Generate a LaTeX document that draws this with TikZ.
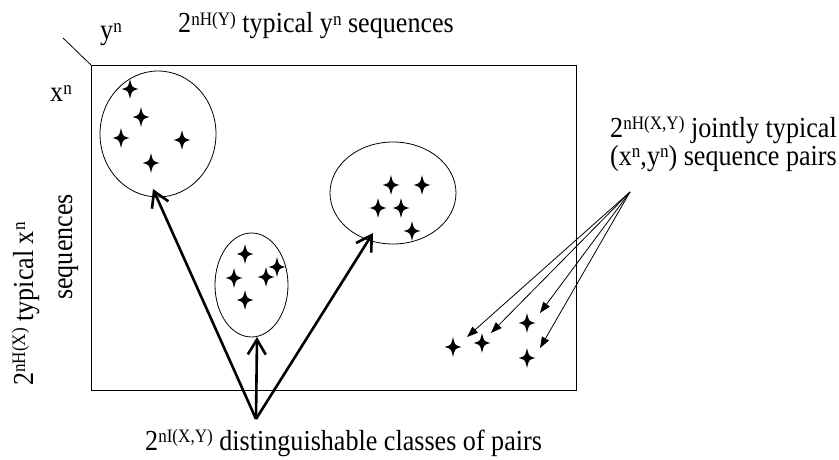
\documentclass[tikz,border=0pt]{standalone}
\usepackage{fontspec}
\setmainfont{Liberation Serif}[FakeStretch=0.9]
\usetikzlibrary{arrows.meta,shapes.geometric}
\newcommand{\sps}[1]{\raisebox{0.6ex}{\fontsize{19}{19}\selectfont #1}}
\tikzset{
  fourstar/.pic={\fill (0pt,10pt) .. controls (1.8pt,1.8pt) .. (8.5pt,0pt) .. controls (1.8pt,-1.8pt) .. (0pt,-10pt) .. controls (-1.8pt,-1.8pt) .. (-8.5pt,0pt) .. controls (-1.8pt,1.8pt) .. (0pt,10pt);},
  lbl/.style={inner sep=0pt, anchor=base west, font=\fontsize{29}{29}\selectfont},
  cloud/.style={ellipse, draw, line width=0.8pt, inner sep=0pt},
  bigarrow/.style={line width=2.6pt, -{Straight Barb[length=15pt,width=18pt]}},
  thinarrow/.style={line width=0.8pt, -{Triangle[length=11pt,width=8pt]}}
}
\begin{document}
\begin{tikzpicture}[x=1pt,y=-1pt]
\useasboundingbox (0,0) rectangle (839,460);
% frame
\draw[line width=0.9pt] (91,65) rectangle (576,390);
\coordinate (c0) at (91,65);
\coordinate (c1) at (63,38);
\draw[line width=0.8pt] (c1) -- (c0);
% labels
\node[lbl] (yn) at (100,40) {y\sps{n}};
\node[lbl] (xn) at (50,102) {x\sps{n}};
\node[lbl] (ytyp) at (178,33) {2\sps{nH(Y)} typical y\sps{n} sequences};
\node[lbl, rotate=90] (xtyp) at (33,386) {2\sps{nH(X)} typical x\sps{n}};
\node[lbl, rotate=90] (xseq) at (72,300) {sequences};
\node[lbl, align=left, font=\fontsize{29}{23}\selectfont] (jt1) at (610,165) {2\sps{nH(X,Y)} jointly typical\\(x\sps{n},y\sps{n}) sequence pairs};
\node[lbl] (cls) at (145,450) {2\sps{nI(X,Y)} distinguishable classes of pairs};
% clouds
\node[cloud, minimum width=116pt, minimum height=126pt] (e1) at (158,134) {};
\node[cloud, minimum width=73pt, minimum height=104pt] (e2) at (251.5,285) {};
\node[cloud, minimum width=126pt, minimum height=102pt] (e3) at (393,193) {};
% stars
\pic (s1) at (130,89) {fourstar};
\pic (s2) at (141,117) {fourstar};
\pic (s3) at (121,138) {fourstar};
\pic (s4) at (182,140) {fourstar};
\pic (s5) at (151,163) {fourstar};
\pic (s6) at (245,254) {fourstar};
\pic (s7) at (234,278) {fourstar};
\pic (s8) at (266,277) {fourstar};
\pic (s9) at (277,267) {fourstar};
\pic (s10) at (245,300) {fourstar};
\pic (s11) at (391,185) {fourstar};
\pic (s12) at (422,185) {fourstar};
\pic (s13) at (378,208) {fourstar};
\pic (s14) at (401,208) {fourstar};
\pic (s15) at (412,231) {fourstar};
\pic (s16) at (453,347) {fourstar};
\pic (s17) at (482,343) {fourstar};
\pic (s18) at (527,323) {fourstar};
\pic (s19) at (527,358) {fourstar};
% thick arrows
\coordinate (src) at (256,419);
\coordinate (t1) at (153,189);
\coordinate (t2) at (257,337);
\coordinate (t3) at (373,233);
\draw[bigarrow] (src) -- (t1);
\draw[bigarrow] (src) -- (t2);
\draw[bigarrow] (src) -- (t3);
% thin arrows
\coordinate (jt) at (630,192);
\coordinate (p1) at (467,337);
\coordinate (p2) at (491,333);
\coordinate (p3) at (540,313);
\coordinate (p4) at (540,348);
\draw[thinarrow] (jt) -- (p1);
\draw[thinarrow] (jt) -- (p2);
\draw[thinarrow] (jt) -- (p3);
\draw[thinarrow] (jt) -- (p4);
\end{tikzpicture}
\end{document}
